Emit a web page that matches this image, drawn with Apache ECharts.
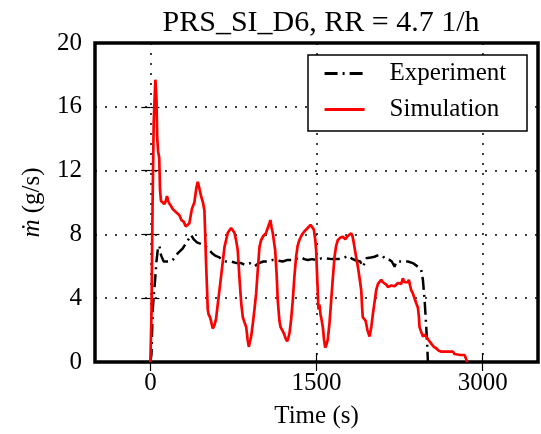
<!DOCTYPE html>
<html>
<head>
<meta charset="utf-8">
<script src="https://cdn.jsdelivr.net/npm/echarts@6/dist/echarts.min.js"></script>
<style>html,body{margin:0;padding:0;background:#fff}#c{width:541px;height:434px}</style>
</head>
<body>
<div id="c"></div>
<script>
const titleText = 'PRS_SI_D6, RR = 4.7 1/h';
const xTicks = [0, 1500, 3000];
const yTicks = [0, 4, 8, 12, 16, 20];

const simTime = [0,10,20,30,45,55,62,70,80,87,96,110,126,140,150,165,185,200,230,262,280,300,320,337,352,375,397,415,428,445,458,475,488,495,503,512,518,525,539,550,563,578,593,615,639,669,699,729,745,759,775,789,805,820,835,849,865,878,889,900,910,925,940,955,970,985,1000,1020,1045,1060,1075,1084,1095,1105,1127,1140,1150,1165,1175,1190,1205,1220,1235,1245,1256,1270,1286,1300,1316,1330,1346,1370,1392,1420,1446,1462,1476,1490,1497,1505,1518,1527,1536,1547,1557,1568,1578,1590,1602,1618,1633,1648,1663,1678,1693,1715,1738,1760,1783,1800,1813,1825,1837,1855,1873,1890,1904,1912,1918,1930,1943,1960,1979,1995,2009,2025,2039,2055,2069,2084,2100,2114,2130,2145,2160,2175,2190,2205,2220,2235,2250,2265,2280,2295,2310,2325,2334,2345,2355,2370,2385,2400,2416,2425,2430,2445,2461,2480,2497,2515,2536,2560,2582,2605,2627,2680,2732,2745,2762,2800,2837,2850,2862];
const simFlow = [0,3,10,15,17.7,16.5,14,13.2,12.8,10.8,10.1,10.0,9.9,10.1,10.4,10.0,9.8,9.6,9.4,9.2,8.9,8.8,8.5,8.5,8.7,9.6,10.0,10.9,11.3,10.8,10.4,10.0,9.5,8.0,6.2,4.5,3.3,3.0,2.8,2.5,2.1,2.3,2.7,4.0,5.4,7.2,8.1,8.4,8.3,8.1,7.6,7.0,5.2,3.7,2.8,2.5,2.2,1.4,0.95,1.3,1.6,2.4,3.3,4.3,5.8,7.2,7.65,7.9,8.1,8.4,8.7,8.9,8.4,8.1,7.0,5.5,3.9,2.6,2.2,2.0,1.8,1.5,1.3,1.5,1.8,2.6,3.9,5.3,6.6,7.3,7.65,8.0,8.2,8.4,8.6,8.5,8.3,7.6,7.0,5.5,3.3,3.6,3.0,2.6,2.2,1.4,0.9,1.1,1.4,2.5,3.9,5.3,6.6,7.3,7.65,7.8,7.85,7.7,7.9,7.8,8.07,7.9,7.45,6.7,6.0,5.2,4.5,3.4,2.8,2.7,2.6,2.0,1.6,2.2,3.0,3.8,4.5,4.9,5.0,5.15,5.0,5.0,4.85,4.7,4.6,4.8,4.85,4.75,4.85,4.95,5.05,4.9,5.25,5.0,5.1,5.0,5.15,4.8,4.5,4.3,4.0,3.7,3.4,2.8,2.2,1.9,1.6,1.7,1.65,1.35,1.15,0.95,0.85,0.7,0.65,0.65,0.65,0.5,0.44,0.44,0.44,0.2,0.0];

const expTime = [0,10,21,42,55,66,81,96,120,157,180,202,232,260,290,322,345,368,390,420,458,503,533,560,590,623,650,684,729,780,820,849,870,895,915,940,980,1020,1060,1105,1150,1195,1240,1290,1330,1361,1390,1421,1460,1500,1545,1587,1640,1693,1740,1783,1815,1843,1870,1895,1918,1935,1949,1990,2024,2060,2099,2114,2150,2180,2205,2220,2270,2325,2370,2416,2445,2461,2476,2491,2500,2506];
const expFlow = [0,0.5,3.3,5.1,6.3,7.0,7.3,6.7,6.3,6.3,6.3,6.4,6.7,6.9,7.1,7.45,7.7,7.96,7.7,7.5,7.4,7.23,7.0,6.8,6.65,6.56,6.4,6.3,6.3,6.2,6.2,6.1,6.15,6.2,6.1,6.0,6.2,6.3,6.3,6.4,6.35,6.3,6.4,6.4,6.5,6.56,6.45,6.4,6.45,6.4,6.5,6.5,6.45,6.45,6.5,6.65,6.5,6.4,6.35,6.3,5.97,6.2,6.5,6.55,6.6,6.7,6.65,6.5,6.45,6.3,5.97,6.3,6.3,6.3,6.2,5.97,5.8,5.14,3.9,2.2,1.0,0.0];

const FONT = '"Liberation Serif", "DejaVu Serif", serif';
const pairs = (t, v) => t.map((x, i) => [x, v[i]]);

const chart = echarts.init(document.getElementById('c'), null, {renderer: 'canvas'});
const dotted = {color: '#000', width: 1.5, type: [2, 8]};
const tickStyle = {color: '#000', width: 1.2};

chart.setOption({
  animation: false,
  backgroundColor: '#fff',
  title: {
    text: titleText, left: 316, textAlign: 'center', top: 3,
    textStyle: {fontFamily: FONT, fontWeight: 'normal', fontSize: 30, color: '#000'}
  },
  grid: {left: 95, right: 3, top: 43, bottom: 72, show: true, borderColor: '#000', borderWidth: 3.5, backgroundColor: 'transparent'},
  legend: {
    orient: 'vertical', left: 323, top: 61, itemWidth: 40, itemHeight: 14, itemGap: 11,
    selectedMode: false, padding: 0,
    itemStyle: {opacity: 0},
    lineStyle: {width: 3.2},
    textStyle: {fontFamily: FONT, fontSize: 25, color: '#000', lineHeight: 25, padding: [0, 0, 0, 20]},
    data: ['Experiment', 'Simulation']
  },
  graphic: [{
    type: 'rect', z: 3, shape: {x: 308, y: 55, width: 219, height: 76},
    style: {fill: '#fff', stroke: '#000', lineWidth: 1.5}
  }],
  xAxis: [{
    type: 'value', min: -500, max: 3500, position: 'bottom',
    name: 'Time (s)', nameLocation: 'middle', nameGap: 42,
    nameTextStyle: {fontFamily: FONT, fontSize: 25, color: '#000'},
    axisLine: {show: false},
    axisTick: {show: true, inside: true, length: 9, lineStyle: tickStyle, customValues: xTicks},
    axisLabel: {customValues: xTicks, formatter: v => String(v), fontFamily: FONT, fontSize: 25, color: '#000', margin: 9},
    splitLine: {show: true, lineStyle: dotted}
  }, {
    type: 'value', min: -500, max: 3500, position: 'top',
    axisLine: {show: false},
    axisTick: {show: true, inside: true, length: 9, lineStyle: tickStyle, customValues: xTicks},
    axisLabel: {show: false}, splitLine: {show: false}
  }],
  yAxis: [{
    type: 'value', min: 0, max: 20, interval: 4, position: 'left',
    name: '{i|ṁ} (g/s)', nameLocation: 'middle', nameGap: 50, nameRotate: 90,
    nameTextStyle: {fontFamily: FONT, fontSize: 25, color: '#000', rich: {i: {fontFamily: FONT, fontSize: 25, fontStyle: 'italic', color: '#000'}}},
    axisLine: {show: false},
    axisTick: {show: true, inside: true, length: 9, lineStyle: tickStyle},
    axisLabel: {fontFamily: FONT, fontSize: 25, color: '#000', margin: 13},
    splitLine: {show: true, lineStyle: dotted}
  }, {
    type: 'value', min: 0, max: 20, interval: 4, position: 'right',
    axisLine: {show: false},
    axisTick: {show: true, inside: true, length: 9, lineStyle: tickStyle},
    axisLabel: {show: false}, splitLine: {show: false}
  }],
  series: [{
    name: 'Experiment', type: 'line', symbol: 'none', z: 2,
    data: pairs(expTime, expFlow),
    lineStyle: {color: '#000', width: 2.5, type: [13, 5, 2, 5]},
    itemStyle: {color: '#000'}
  }, {
    name: 'Simulation', type: 'line', symbol: 'none', z: 2,
    data: pairs(simTime, simFlow),
    lineStyle: {color: '#ff0000', width: 2.7},
    itemStyle: {color: '#ff0000'}
  }]
});
</script>
</body>
</html>
